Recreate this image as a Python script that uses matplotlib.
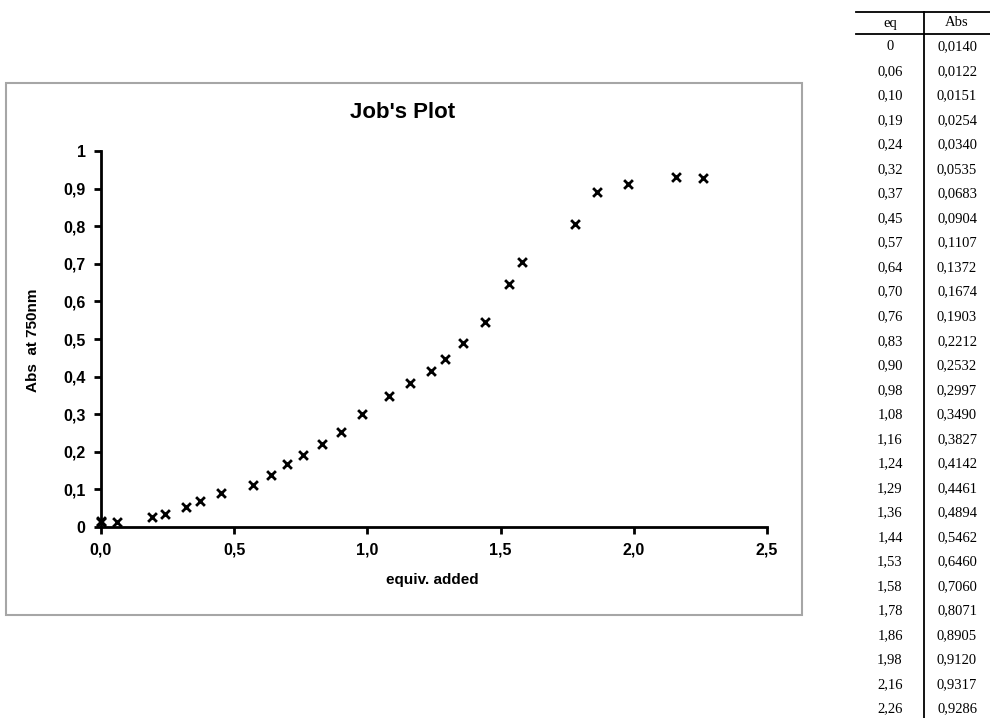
import matplotlib.pyplot as plt
from matplotlib.patches import Rectangle
from matplotlib.lines import Line2D

# table values (as printed next to the chart)
eq_labels = ["0", "0,06", "0,10", "0,19", "0,24", "0,32", "0,37", "0,45", "0,57", "0,64",
             "0,70", "0,76", "0,83", "0,90", "0,98", "1,08", "1,16", "1,24", "1,29", "1,36",
             "1,44", "1,53", "1,58", "1,78", "1,86", "1,98", "2,16", "2,26"]
abs_labels = ["0,0140", "0,0122", "0,0151", "0,0254", "0,0340", "0,0535", "0,0683", "0,0904",
              "0,1107", "0,1372", "0,1674", "0,1903", "0,2212", "0,2532", "0,2997", "0,3490",
              "0,3827", "0,4142", "0,4461", "0,4894", "0,5462", "0,6460", "0,7060", "0,8071",
              "0,8905", "0,9120", "0,9317", "0,9286"]

# points as drawn in the chart (third point sits on the y axis in the picture)
eq = [0, 0.06, 0.0, 0.19, 0.24, 0.32, 0.37, 0.45, 0.57, 0.64, 0.70, 0.76, 0.83, 0.90,
      0.98, 1.08, 1.16, 1.24, 1.29, 1.36, 1.44, 1.53, 1.58, 1.78, 1.86, 1.98, 2.16, 2.26]
absorb = [0.0140, 0.0122, 0.0151, 0.0254, 0.0340, 0.0535, 0.0683, 0.0904, 0.1107, 0.1372,
          0.1674, 0.1903, 0.2212, 0.2532, 0.2997, 0.3490, 0.3827, 0.4142, 0.4461, 0.4894,
          0.5462, 0.6460, 0.7060, 0.8071, 0.8905, 0.9120, 0.9317, 0.9286]

xticks = [0, 0.5, 1.0, 1.5, 2.0, 2.5]
xtick_labels = ["0,0", "0,5", "1,0", "1,5", "2,0", "2,5"]
yticks = [0, 0.1, 0.2, 0.3, 0.4, 0.5, 0.6, 0.7, 0.8, 0.9, 1.0]
ytick_labels = ["0", "0,1", "0,2", "0,3", "0,4", "0,5", "0,6", "0,7", "0,8", "0,9", "1"]

W, H = 990, 718
fig = plt.figure(figsize=(W / 100, H / 100), dpi=100)
plt.rcParams['font.family'] = ['Liberation Sans', 'DejaVu Sans']

# chart frame
fig.patches.append(Rectangle((6 / W, 1 - 615 / H), (802 - 6) / W, (615 - 83) / H,
                             transform=fig.transFigure, fill=False,
                             edgecolor='#a6a6a6', linewidth=1.5))

ax = fig.add_axes([101 / W, 1 - 527 / H, (767 - 101) / W, (527 - 151) / H])
ax.scatter(eq, absorb, marker='x', s=40, color='black', linewidths=2, clip_on=False, zorder=3)
ax.set_xlim(0, 2.5)
ax.set_ylim(0, 1)
ax.set_xticks(xticks)
ax.set_xticklabels(xtick_labels, fontsize=11.5, fontweight='bold')
ax.set_yticks(yticks)
ax.set_yticklabels(ytick_labels, fontsize=11.5, fontweight='bold')
for s in ['top', 'right']:
    ax.spines[s].set_visible(False)
for s in ['left', 'bottom']:
    ax.spines[s].set_linewidth(2)
ax.tick_params(width=2, length=5, pad=6)

fig.text(33 / W, 1 - 340 / H, "Abs  at 750nm", rotation=90, ha='center', va='center',
         fontsize=11, fontweight='bold')
fig.text(432 / W, 1 - 580 / H, "equiv. added", ha='center', va='center',
         fontsize=11, fontweight='bold')
fig.text(403 / W, 1 - 113 / H, "Job's Plot", ha='center', va='center',
         fontsize=16, fontweight='bold')

# data table on the right
serif = ['Liberation Serif', 'DejaVu Serif']
fig.lines.append(Line2D([856 / W, 1], [1 - 12 / H] * 2, transform=fig.transFigure,
                        color='black', linewidth=1.3))
fig.lines.append(Line2D([856 / W, 1], [1 - 34 / H] * 2, transform=fig.transFigure,
                        color='black', linewidth=1.3))
fig.lines.append(Line2D([924 / W] * 2, [1 - 12 / H, 0], transform=fig.transFigure,
                        color='black', linewidth=1.3))
fig.text(890 / W, 1 - 23 / H, "eq", ha='center', va='center', fontsize=10.5, family=serif)
fig.text(957 / W, 1 - 23 / H, "Abs", ha='center', va='center', fontsize=10.5, family=serif)
for i, (a, b) in enumerate(zip(eq_labels, abs_labels)):
    y = 47 + i * (709 - 47) / 27
    fig.text(890 / W, 1 - y / H, a, ha='center', va='center', fontsize=10.5, family=serif)
    fig.text(957 / W, 1 - y / H, b, ha='center', va='center', fontsize=10.5, family=serif)

fig.savefig("out.png", dpi=100)
